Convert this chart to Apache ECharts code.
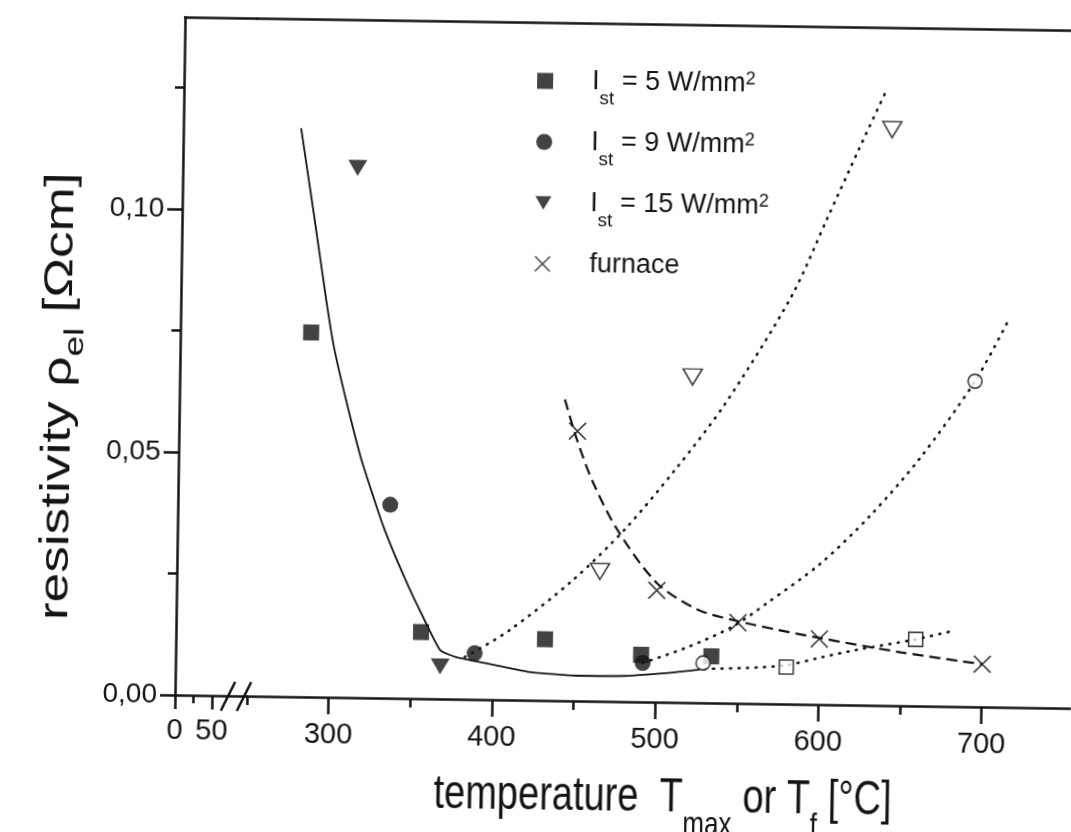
<!DOCTYPE html>
<html>
<head>
<meta charset="utf-8">
<script src="https://cdn.jsdelivr.net/npm/echarts@6.0.0/dist/echarts.min.js"></script>
<style>
html, body { margin: 0; padding: 0; background: #fff; overflow: hidden; }
#chart { width: 1071px; height: 832px; transform: rotate(0.85deg); transform-origin: 175px 695px; }
</style>
</head>
<body>
<div id="chart"></div>
<script>
// measured points, [temperature °C, resistivity Ωcm]
var sq5 = [[286, 0.0750], [356, 0.0137], [432, 0.0126], [491, 0.0097], [534, 0.0096]];
var ci9 = [[336, 0.0398], [389, 0.0095], [492, 0.0080]];
var tr15 = [[313, 0.1090], [368, 0.0067]];
var furnace = [[450, 0.0555], [500, 0.0230], [550, 0.0166], [600, 0.0135], [700, 0.0088]];
var openTri = [[465, 0.0267], [520, 0.0670], [640, 0.1185]];
var openCirc = [[529, 0.0082], [693, 0.0670]];
var openSq = [[580, 0.0076], [659, 0.0137]];

// fitted curves
var fitSolid = [[278, 0.1170], [287, 0.0985], [295, 0.0816], [300, 0.0722], [308, 0.0612], [318, 0.0489],
  [332, 0.0353], [346, 0.0244], [358, 0.0162], [368, 0.0100], [378, 0.0086], [391, 0.0078], [421, 0.0059],
  [451, 0.0052], [481, 0.0053], [512, 0.0062], [527, 0.0068]];
var fitDot1 = [[383, 0.0087], [410, 0.0143], [449, 0.0250], [480, 0.0355], [510, 0.0478], [540, 0.0615],
  [580, 0.0840], [601, 0.1000], [620, 0.1145], [636, 0.1265]];
var fitDot2 = [[492, 0.0080], [520, 0.0115], [547, 0.0158], [568, 0.0208], [600, 0.0290], [630, 0.0390],
  [660, 0.0510], [693, 0.0670], [712, 0.0790]];
var fitDot3 = [[530, 0.0070], [555, 0.0073], [580, 0.0080], [600, 0.0096], [622, 0.0113], [659, 0.0137], [681, 0.0155]];
var fitDash = [[442, 0.0620], [450, 0.0535], [460, 0.0450], [475, 0.0355], [500, 0.0245], [525, 0.0192],
  [546, 0.0172], [575, 0.0152], [600, 0.0137], [650, 0.0110], [700, 0.0088]];

// ticks
var xLowMajor = [0, 50];
var xLowMinor = [25];
var xMajor = [300, 400, 500, 600, 700];
var xMinor = [250, 350, 450, 550, 650];
var yMajor = [0, 0.05, 0.10];
var yMinor = [0.025, 0.075, 0.125];

var FONT = 'Liberation Sans';
var INK = '#141414';
var triDown = 'path://M0,0L20,0L10,17Z';
var cross = 'path://M0,1.3L1.3,0L10,8.7L18.7,0L20,1.3L11.3,10L20,18.7L18.7,20L10,11.3L1.3,20L0,18.7L8.7,10Z';

var legendText = {
  I5: '{g| }{m|I}{sub|st}{m| = 5 W/mm}{sup|2}',
  I9: '{g| }{m|I}{sub|st}{m| = 9 W/mm}{sup|2}',
  I15: '{g| }{m|I}{sub|st}{m| = 15 W/mm}{sup|2}',
  furnace: '{g| }{m|furnace}'
};

var myChart = echarts.init(document.getElementById('chart'));

var axisLine = { lineStyle: { color: INK, width: 2.5 } };
var tickStyle = { color: INK, width: 2.5 };

option = {
  backgroundColor: '#fff',
  animation: false,
  grid: [
    { left: 175, top: 17, width: 72, height: 678 },
    { left: 247, top: 17, width: 834, height: 678 }
  ],
  legend: {
    orient: 'vertical',
    left: 528,
    top: 62,
    padding: 0,
    itemGap: 21,
    itemWidth: 16,
    itemHeight: 16,
    data: ['I5', 'I9', 'I15', 'furnace'],
    formatter: function (name) { return legendText[name]; },
    textStyle: {
      fontFamily: FONT, color: INK,
      rich: {
        g: { width: 34 },
        m: { fontSize: 27, fontFamily: FONT, color: INK },
        sub: { fontSize: 19, fontFamily: FONT, color: INK, padding: [34, 0, 0, 0] },
        sup: { fontSize: 18, fontFamily: FONT, color: INK, padding: [0, 0, 9, 0] }
      }
    }
  },
  xAxis: [
    {
      gridIndex: 0, type: 'value', min: 0, max: 97.3, position: 'bottom',
      axisLine: axisLine,
      axisTick: { customValues: xLowMajor, length: 14, lineStyle: tickStyle },
      axisLabel: { customValues: xLowMajor, margin: 21, fontFamily: FONT, fontSize: 29, color: INK },
      splitLine: { show: false }
    },
    {
      gridIndex: 0, type: 'value', min: 0, max: 97.3, position: 'bottom',
      axisLine: { show: false },
      axisTick: { customValues: xLowMinor, length: 8, lineStyle: tickStyle },
      axisLabel: { show: false },
      splitLine: { show: false }
    },
    {
      gridIndex: 0, type: 'value', min: 0, max: 97.3, position: 'top',
      axisLine: axisLine, axisTick: { show: false }, axisLabel: { show: false }, splitLine: { show: false }
    },
    {
      gridIndex: 1, type: 'value', min: 250, max: 754.7, position: 'bottom',
      axisLine: axisLine,
      axisTick: { customValues: xMajor, length: 17, lineStyle: tickStyle },
      axisLabel: { customValues: xMajor, margin: 23, fontFamily: FONT, fontSize: 29, color: INK },
      splitLine: { show: false }
    },
    {
      gridIndex: 1, type: 'value', min: 250, max: 754.7, position: 'bottom',
      axisLine: { show: false },
      axisTick: { customValues: xMinor, length: 9, lineStyle: tickStyle },
      axisLabel: { show: false },
      splitLine: { show: false }
    },
    {
      gridIndex: 1, type: 'value', min: 250, max: 754.7, position: 'top',
      axisLine: axisLine, axisTick: { show: false }, axisLabel: { show: false }, splitLine: { show: false }
    }
  ],
  yAxis: [
    {
      gridIndex: 0, type: 'value', min: 0, max: 0.1395, position: 'left',
      axisLine: axisLine,
      axisTick: { customValues: yMajor, length: 15, lineStyle: tickStyle },
      axisLabel: {
        customValues: yMajor, margin: 18, fontFamily: FONT, fontSize: 28, color: INK,
        formatter: function (v) { return v.toFixed(2).replace('.', ','); }
      },
      splitLine: { show: false }
    },
    {
      gridIndex: 0, type: 'value', min: 0, max: 0.1395, position: 'left',
      axisLine: { show: false },
      axisTick: { customValues: yMinor, length: 9, lineStyle: tickStyle },
      axisLabel: { show: false },
      splitLine: { show: false }
    },
    {
      gridIndex: 1, type: 'value', min: 0, max: 0.1395, show: false
    }
  ],
  graphic: [
    // axis break marks
    { type: 'line', shape: { x1: 221, y1: 710, x2: 235, y2: 681 }, style: { stroke: INK, lineWidth: 2.5 } },
    { type: 'line', shape: { x1: 237, y1: 710, x2: 251, y2: 681 }, style: { stroke: INK, lineWidth: 2.5 } },
    // axis titles, the scanned lettering is taller than wide
    {
      type: 'text', x: 664, y: 791, scaleY: 1.25,
      style: {
        text: 'temperature  T{sub|max} or T{sub|f} [°C]',
        fontFamily: FONT, fontSize: 38, fill: INK, align: 'center', verticalAlign: 'middle',
        rich: { sub: { fontFamily: FONT, fontSize: 26, fill: INK, padding: [44, 0, 0, 0] } }
      }
    },
    {
      type: 'text', x: 55, y: 398, rotation: Math.PI / 2, scaleX: 1.33,
      style: {
        text: 'resistivity ρ{sub|el} [Ωcm]',
        fontFamily: FONT, fontSize: 40, fill: INK, align: 'center', verticalAlign: 'middle',
        rich: { sub: { fontFamily: FONT, fontSize: 28, fill: INK, padding: [30, 0, 0, 0] } }
      }
    }
  ],
  series: [
    {
      name: 'fit', type: 'line', xAxisIndex: 3, yAxisIndex: 2, data: fitSolid, smooth: 0.15,
      showSymbol: false, lineStyle: { color: INK, width: 1.8 }, z: 2
    },
    {
      name: 'dot1', type: 'line', xAxisIndex: 3, yAxisIndex: 2, data: fitDot1, smooth: 0.3, showSymbol: false,
      lineStyle: { color: INK, width: 2.6, type: [1, 7.5], cap: 'round' }, z: 2
    },
    {
      name: 'dot2', type: 'line', xAxisIndex: 3, yAxisIndex: 2, data: fitDot2, smooth: 0.3, showSymbol: false,
      lineStyle: { color: INK, width: 2.6, type: [1, 7.5], cap: 'round' }, z: 2
    },
    {
      name: 'dot3', type: 'line', xAxisIndex: 3, yAxisIndex: 2, data: fitDot3, smooth: 0.3, showSymbol: false,
      lineStyle: { color: INK, width: 2.6, type: [1, 7.5], cap: 'round' }, z: 2
    },
    {
      name: 'dash', type: 'line', xAxisIndex: 3, yAxisIndex: 2, data: fitDash, smooth: 0.3, showSymbol: false,
      lineStyle: { color: INK, width: 2.2, type: [11, 6] }, z: 2
    },
    {
      name: 'I5', type: 'scatter', xAxisIndex: 3, yAxisIndex: 2, data: sq5,
      symbol: 'rect', symbolSize: 16, itemStyle: { color: INK }, z: 5
    },
    {
      name: 'I9', type: 'scatter', xAxisIndex: 3, yAxisIndex: 2, data: ci9,
      symbol: 'circle', symbolSize: 16, itemStyle: { color: INK }, z: 5
    },
    {
      name: 'I15', type: 'scatter', xAxisIndex: 3, yAxisIndex: 2, data: tr15,
      symbol: triDown, symbolSize: [19, 16], itemStyle: { color: INK }, z: 5
    },
    {
      name: 'furnace', type: 'scatter', xAxisIndex: 3, yAxisIndex: 2, data: furnace,
      symbol: cross, symbolSize: 18, itemStyle: { color: INK }, z: 5
    },
    {
      name: 'openTri', type: 'scatter', xAxisIndex: 3, yAxisIndex: 2, data: openTri,
      symbol: triDown, symbolSize: [19, 16], itemStyle: { color: '#fff', borderColor: INK, borderWidth: 1.6 }, z: 5
    },
    {
      name: 'openCirc', type: 'scatter', xAxisIndex: 3, yAxisIndex: 2, data: openCirc,
      symbol: 'circle', symbolSize: 14, itemStyle: { color: '#fff', borderColor: INK, borderWidth: 1.6 }, z: 5
    },
    {
      name: 'openSq', type: 'scatter', xAxisIndex: 3, yAxisIndex: 2, data: openSq,
      symbol: 'rect', symbolSize: 14, itemStyle: { color: '#fff', borderColor: INK, borderWidth: 1.6 }, z: 5
    }
  ]
};

myChart.setOption(option);
</script>
</body>
</html>
